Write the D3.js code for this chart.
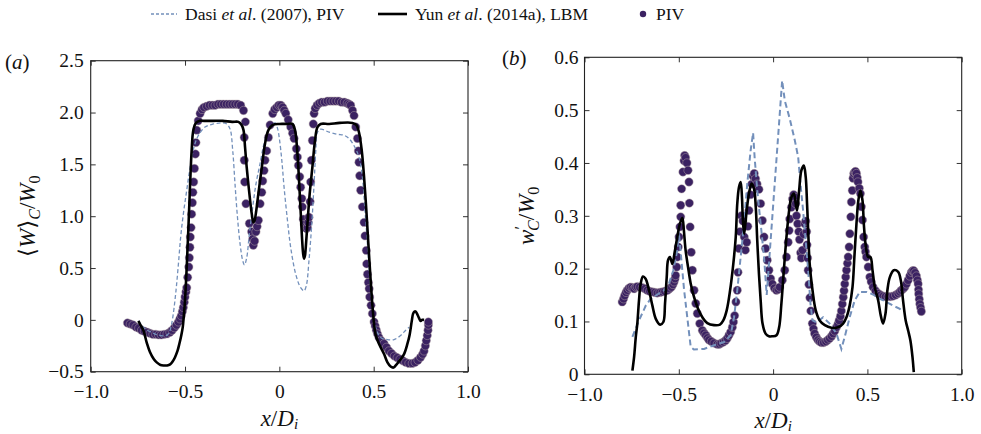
<!DOCTYPE html>
<html>
<head>
<meta charset="utf-8">
<script src="https://cdn.jsdelivr.net/npm/d3@7"></script>
<style>
  body { margin: 0; background: #fff; }
  svg { display: block; }
  text { font-family: "Liberation Serif", "DejaVu Serif", "Times New Roman", Times, serif; fill: #111; }
</style>
</head>
<body>
<div id="chart"></div>
<script>
// ---- data: [x/Di, value] ----

// (a) mean axial velocity <W>_C / W0
const pivMean = [
  [-0.805,-0.03],[-0.79,-0.04],[-0.775,-0.05],[-0.76,-0.07],[-0.745,-0.08],[-0.73,-0.10],[-0.715,-0.11],[-0.70,-0.12],
  [-0.685,-0.13],[-0.67,-0.14],[-0.655,-0.14],[-0.64,-0.145],[-0.625,-0.145],[-0.61,-0.14],[-0.595,-0.135],[-0.58,-0.12],
  [-0.568,-0.10],[-0.556,-0.075],[-0.545,-0.05],[-0.535,-0.02],[-0.527,0.01],[-0.52,0.04],[-0.514,0.08],[-0.509,0.12],
  [-0.504,0.17],[-0.5,0.22],[-0.495,0.27],[-0.491,0.31],[-0.486,0.41],[-0.48,0.51],[-0.477,0.60],[-0.474,0.70],
  [-0.472,0.80],[-0.468,0.89],[-0.465,1.02],[-0.461,1.13],[-0.458,1.23],[-0.454,1.33],[-0.45,1.46],[-0.445,1.60],
  [-0.442,1.71],[-0.438,1.83],[-0.43,1.92],[-0.42,1.99],[-0.41,2.03],[-0.40,2.05],[-0.385,2.06],[-0.37,2.07],
  [-0.355,2.07],[-0.34,2.07],[-0.325,2.08],[-0.31,2.08],[-0.295,2.08],[-0.28,2.08],[-0.265,2.08],[-0.25,2.08],
  [-0.235,2.08],[-0.22,2.08],[-0.205,2.07],[-0.19,2.02],[-0.18,1.91],[-0.186,1.76],[-0.186,1.54],[-0.184,1.33],
  [-0.177,1.12],[-0.159,0.93],[-0.147,0.85],[-0.141,0.78],[-0.138,0.72],[-0.131,0.76],[-0.124,0.85],[-0.118,0.90],
  [-0.111,0.96],[-0.102,1.12],[-0.093,1.23],[-0.088,1.34],[-0.081,1.44],[-0.076,1.54],[-0.067,1.63],[-0.058,1.76],
  [-0.049,1.88],[-0.035,1.99],[-0.025,2.03],[-0.014,2.05],[-0.003,2.07],[0.008,2.07],[0.018,2.05],[0.026,2.02],
  [0.034,1.99],[0.047,1.93],[0.06,1.86],[0.07,1.80],[0.078,1.75],[0.09,1.65],[0.096,1.57],[0.101,1.49],
  [0.108,1.38],[0.113,1.28],[0.119,1.17],[0.122,1.09],[0.127,0.97],[0.132,0.92],[0.138,0.89],[0.144,0.88],
  [0.149,0.89],[0.153,0.94],[0.157,0.99],[0.163,1.14],[0.166,1.33],[0.17,1.54],[0.175,1.73],[0.18,1.89],
  [0.184,1.99],[0.19,2.04],[0.2,2.07],[0.212,2.09],[0.225,2.10],[0.24,2.10],[0.255,2.11],[0.27,2.11],
  [0.285,2.11],[0.3,2.11],[0.315,2.11],[0.33,2.10],[0.345,2.10],[0.36,2.09],[0.37,2.08],[0.378,2.07],
  [0.388,2.02],[0.396,1.97],[0.405,1.86],[0.414,1.75],[0.419,1.63],[0.422,1.52],[0.426,1.39],[0.431,1.25],
  [0.44,1.09],[0.449,0.94],[0.454,0.81],[0.461,0.67],[0.463,0.54],[0.467,0.44],[0.472,0.36],[0.476,0.30],
  [0.479,0.22],[0.486,0.14],[0.493,0.06],[0.502,-0.02],[0.508,-0.06],[0.514,-0.10],[0.52,-0.135],[0.528,-0.17],
  [0.54,-0.20],[0.555,-0.23],[0.568,-0.265],[0.581,-0.30],[0.595,-0.325],[0.61,-0.35],[0.625,-0.365],[0.64,-0.38],
  [0.655,-0.395],[0.67,-0.41],[0.687,-0.42],[0.705,-0.42],[0.72,-0.41],[0.735,-0.39],[0.749,-0.36],[0.76,-0.33],
  [0.767,-0.30],[0.774,-0.25],[0.779,-0.20],[0.784,-0.15],[0.788,-0.10],[0.79,-0.05],[0.79,-0.02]
];

const lbmMean = [
  [-0.747,-0.01],[-0.739,-0.04],[-0.721,-0.10],[-0.703,-0.22],[-0.686,-0.31],[-0.665,-0.38],[-0.65,-0.41],[-0.63,-0.435],
  [-0.611,-0.44],[-0.595,-0.44],[-0.579,-0.43],[-0.565,-0.40],[-0.553,-0.36],[-0.54,-0.30],[-0.53,-0.23],[-0.52,-0.15],
  [-0.512,-0.07],[-0.506,0.05],[-0.5,0.19],[-0.491,0.51],[-0.482,0.89],[-0.473,1.31],[-0.465,1.63],[-0.456,1.83],
  [-0.442,1.90],[-0.42,1.92],[-0.40,1.92],[-0.35,1.92],[-0.30,1.92],[-0.25,1.91],[-0.217,1.91],[-0.2,1.88],
  [-0.19,1.83],[-0.182,1.67],[-0.173,1.47],[-0.159,1.22],[-0.146,1.02],[-0.138,0.94],[-0.131,0.96],[-0.125,1.02],
  [-0.111,1.22],[-0.093,1.47],[-0.076,1.70],[-0.058,1.83],[-0.035,1.88],[0.0,1.89],[0.04,1.89],[0.069,1.89],
  [0.083,1.83],[0.096,1.60],[0.108,1.22],[0.119,0.83],[0.126,0.64],[0.131,0.59],[0.136,0.62],[0.14,0.70],
  [0.149,0.93],[0.161,1.22],[0.175,1.47],[0.189,1.73],[0.202,1.86],[0.219,1.89],[0.264,1.89],[0.32,1.90],
  [0.387,1.90],[0.408,1.88],[0.422,1.81],[0.437,1.63],[0.449,1.38],[0.461,1.06],[0.472,0.73],[0.484,0.38],
  [0.497,0.06],[0.51,-0.14],[0.528,-0.23],[0.555,-0.33],[0.573,-0.41],[0.59,-0.45],[0.605,-0.46],[0.617,-0.44],
  [0.638,-0.39],[0.661,-0.33],[0.679,-0.23],[0.691,-0.14],[0.702,-0.01],[0.709,0.06],[0.716,0.08],[0.723,0.08],
  [0.732,0.05],[0.74,0.02],[0.749,-0.01],[0.758,0.0],[0.767,0.0]
];

const dasiMean = [
  [-0.747,-0.01],[-0.721,-0.07],[-0.7,-0.10],[-0.677,-0.12],[-0.655,-0.14],[-0.632,-0.15],[-0.612,-0.155],[-0.597,-0.15],
  [-0.587,-0.13],[-0.579,-0.10],[-0.57,-0.03],[-0.562,0.06],[-0.548,0.28],[-0.535,0.54],[-0.523,0.80],[-0.509,1.02],
  [-0.491,1.25],[-0.473,1.47],[-0.452,1.67],[-0.429,1.78],[-0.394,1.86],[-0.35,1.89],[-0.306,1.90],[-0.279,1.89],
  [-0.261,1.84],[-0.247,1.63],[-0.235,1.31],[-0.222,0.99],[-0.208,0.73],[-0.194,0.57],[-0.185,0.53],[-0.173,0.60],
  [-0.159,0.83],[-0.141,1.09],[-0.124,1.31],[-0.102,1.51],[-0.085,1.67],[-0.064,1.80],[-0.04,1.88],[-0.023,1.90],
  [-0.01,1.85],[0.0,1.75],[0.013,1.54],[0.025,1.28],[0.043,0.96],[0.06,0.70],[0.087,0.44],[0.113,0.31],
  [0.131,0.28],[0.143,0.33],[0.157,0.57],[0.172,0.93],[0.184,1.31],[0.193,1.63],[0.202,1.81],[0.219,1.84],
  [0.264,1.81],[0.308,1.79],[0.343,1.78],[0.369,1.75],[0.396,1.68],[0.422,1.57],[0.44,1.38],[0.454,1.05],
  [0.467,0.73],[0.479,0.41],[0.493,0.12],[0.51,-0.07],[0.537,-0.17],[0.573,-0.19],[0.608,-0.19],[0.643,-0.15],
  [0.67,-0.10],[0.688,-0.07]
];

// (b) rms fluctuation w'_C / W0
const pivRms = [
  [-0.80,0.137],[-0.793,0.143],[-0.787,0.149],[-0.78,0.155],[-0.773,0.159],[-0.764,0.163],[-0.755,0.165],[-0.746,0.164],
  [-0.737,0.162],[-0.728,0.165],[-0.72,0.166],[-0.707,0.165],[-0.693,0.164],[-0.68,0.162],[-0.667,0.159],[-0.654,0.157],
  [-0.64,0.156],[-0.627,0.155],[-0.614,0.154],[-0.6,0.155],[-0.587,0.156],[-0.574,0.157],[-0.56,0.159],[-0.549,0.162],
  [-0.539,0.165],[-0.531,0.17],[-0.525,0.175],[-0.52,0.181],[-0.517,0.187],[-0.511,0.203],[-0.508,0.222],[-0.503,0.241],
  [-0.499,0.26],[-0.494,0.279],[-0.49,0.298],[-0.49,0.32],[-0.485,0.351],[-0.478,0.383],[-0.472,0.404],[-0.469,0.414],
  [-0.464,0.41],[-0.457,0.40],[-0.451,0.386],[-0.446,0.364],[-0.444,0.324],[-0.44,0.279],[-0.434,0.231],[-0.428,0.197],
  [-0.419,0.159],[-0.41,0.134],[-0.402,0.115],[-0.389,0.096],[-0.375,0.083],[-0.366,0.078],[-0.357,0.074],[-0.348,0.069],
  [-0.34,0.065],[-0.327,0.062],[-0.313,0.059],[-0.296,0.057],[-0.285,0.057],[-0.275,0.059],[-0.263,0.061],[-0.252,0.064],
  [-0.243,0.068],[-0.234,0.074],[-0.225,0.08],[-0.216,0.089],[-0.21,0.099],[-0.204,0.111],[-0.197,0.137],[-0.19,0.159],
  [-0.186,0.193],[-0.181,0.238],[-0.175,0.27],[-0.168,0.30],[-0.16,0.29],[-0.153,0.26],[-0.147,0.235],[-0.14,0.25],
  [-0.134,0.28],[-0.128,0.31],[-0.12,0.34],[-0.113,0.36],[-0.106,0.375],[-0.1,0.38],[-0.093,0.37],[-0.085,0.36],
  [-0.075,0.35],[-0.066,0.323],[-0.057,0.291],[-0.048,0.26],[-0.04,0.238],[-0.031,0.216],[-0.022,0.197],[-0.013,0.181],
  [-0.004,0.171],[0.007,0.163],[0.018,0.159],[0.027,0.161],[0.035,0.165],[0.049,0.178],[0.062,0.197],[0.071,0.222],
  [0.08,0.25],[0.085,0.272],[0.088,0.294],[0.097,0.316],[0.103,0.332],[0.109,0.34],[0.115,0.335],[0.12,0.323],
  [0.124,0.30],[0.13,0.285],[0.136,0.27],[0.14,0.255],[0.146,0.23],[0.15,0.22],[0.156,0.235],[0.162,0.265],
  [0.168,0.285],[0.173,0.29],[0.178,0.27],[0.18,0.245],[0.183,0.22],[0.186,0.197],[0.19,0.17],[0.195,0.145],
  [0.2,0.12],[0.208,0.096],[0.214,0.086],[0.22,0.077],[0.229,0.07],[0.238,0.065],[0.247,0.062],[0.256,0.06],
  [0.268,0.06],[0.28,0.062],[0.29,0.065],[0.3,0.068],[0.31,0.072],[0.318,0.077],[0.327,0.082],[0.336,0.089],
  [0.344,0.095],[0.35,0.102],[0.357,0.11],[0.362,0.12],[0.367,0.133],[0.372,0.146],[0.376,0.158],[0.38,0.171],
  [0.385,0.184],[0.389,0.197],[0.394,0.21],[0.398,0.222],[0.403,0.241],[0.407,0.266],[0.412,0.298],[0.415,0.326],
  [0.42,0.348],[0.424,0.371],[0.428,0.38],[0.433,0.383],[0.437,0.384],[0.442,0.38],[0.446,0.372],[0.45,0.364],
  [0.457,0.352],[0.463,0.342],[0.468,0.317],[0.474,0.292],[0.48,0.26],[0.486,0.241],[0.49,0.232],[0.495,0.222],
  [0.504,0.203],[0.513,0.184],[0.52,0.175],[0.53,0.165],[0.543,0.158],[0.557,0.153],[0.57,0.15],[0.583,0.148],
  [0.596,0.147],[0.61,0.147],[0.623,0.147],[0.636,0.148],[0.65,0.15],[0.663,0.153],[0.672,0.156],[0.68,0.159],
  [0.69,0.162],[0.698,0.165],[0.707,0.171],[0.716,0.178],[0.725,0.186],[0.733,0.193],[0.74,0.196],[0.746,0.196],
  [0.753,0.192],[0.76,0.186],[0.765,0.178],[0.769,0.171],[0.771,0.16],[0.772,0.152],[0.775,0.142],[0.778,0.133],
  [0.782,0.126],[0.786,0.119]
];

const lbmRms = [
  [-0.746,0.007],[-0.737,0.033],[-0.728,0.071],[-0.72,0.096],[-0.711,0.14],[-0.702,0.172],[-0.69,0.185],[-0.676,0.181],
  [-0.658,0.159],[-0.64,0.13],[-0.622,0.105],[-0.599,0.094],[-0.582,0.099],[-0.573,0.134],[-0.564,0.184],[-0.557,0.216],
  [-0.547,0.222],[-0.534,0.209],[-0.522,0.231],[-0.508,0.26],[-0.494,0.285],[-0.481,0.296],[-0.473,0.272],[-0.464,0.235],
  [-0.451,0.203],[-0.437,0.172],[-0.419,0.146],[-0.398,0.124],[-0.375,0.108],[-0.349,0.097],[-0.313,0.093],[-0.282,0.094],
  [-0.264,0.102],[-0.246,0.121],[-0.228,0.159],[-0.211,0.209],[-0.198,0.26],[-0.19,0.323],[-0.181,0.354],[-0.172,0.364],
  [-0.165,0.335],[-0.161,0.298],[-0.154,0.266],[-0.147,0.285],[-0.14,0.31],[-0.128,0.342],[-0.114,0.361],[-0.101,0.351],
  [-0.092,0.317],[-0.084,0.253],[-0.075,0.19],[-0.066,0.14],[-0.056,0.096],[-0.04,0.077],[-0.022,0.072],[-0.004,0.072],
  [0.018,0.074],[0.032,0.089],[0.044,0.134],[0.057,0.197],[0.071,0.26],[0.085,0.31],[0.097,0.335],[0.11,0.342],
  [0.12,0.323],[0.127,0.31],[0.138,0.348],[0.15,0.386],[0.163,0.395],[0.173,0.373],[0.18,0.323],[0.186,0.272],
  [0.194,0.209],[0.209,0.159],[0.226,0.121],[0.247,0.102],[0.274,0.093],[0.309,0.088],[0.345,0.089],[0.371,0.096],
  [0.389,0.108],[0.406,0.13],[0.421,0.165],[0.431,0.222],[0.442,0.285],[0.452,0.329],[0.463,0.348],[0.474,0.329],
  [0.481,0.285],[0.49,0.247],[0.504,0.222],[0.516,0.222],[0.527,0.197],[0.539,0.165],[0.557,0.14],[0.571,0.111],
  [0.583,0.096],[0.596,0.115],[0.606,0.159],[0.619,0.184],[0.64,0.197],[0.663,0.194],[0.677,0.178],[0.689,0.14],
  [0.703,0.102],[0.716,0.083],[0.728,0.064],[0.739,0.033],[0.746,0.004]
];

const dasiRms = [
  [-0.746,0.071],[-0.711,0.102],[-0.675,0.13],[-0.649,0.143],[-0.614,0.151],[-0.578,0.159],[-0.552,0.172],[-0.529,0.197],
  [-0.508,0.235],[-0.5,0.27],[-0.472,0.16],[-0.437,0.052],[-0.42,0.047],[-0.366,0.048],[-0.313,0.055],[-0.26,0.061],
  [-0.225,0.074],[-0.207,0.108],[-0.19,0.159],[-0.172,0.222],[-0.154,0.285],[-0.137,0.361],[-0.119,0.424],[-0.106,0.457],
  [-0.098,0.411],[-0.084,0.348],[-0.066,0.285],[-0.048,0.222],[-0.034,0.15],[0.048,0.556],[0.062,0.518],[0.088,0.484],
  [0.115,0.443],[0.133,0.411],[0.145,0.361],[0.159,0.31],[0.171,0.26],[0.186,0.197],[0.198,0.134],[0.209,0.102],
  [0.23,0.098],[0.265,0.108],[0.3,0.096],[0.336,0.077],[0.362,0.048],[0.38,0.071],[0.406,0.108],[0.433,0.14],
  [0.46,0.156],[0.495,0.156],[0.53,0.151],[0.566,0.143],[0.601,0.137],[0.636,0.13],[0.672,0.124],[0.686,0.118]
];

// ticks
const xTicks = [-1, -0.5, 0, 0.5, 1];
const xTickLabels = ["\u22121.0", "\u22120.5", "0", "0.5", "1.0"];
const yTicksA = [-0.5, 0, 0.5, 1, 1.5, 2, 2.5];
const yTickLabelsA = ["\u22120.5", "0", "0.5", "1.0", "1.5", "2.0", "2.5"];
const yTicksB = [0, 0.1, 0.2, 0.3, 0.4, 0.5, 0.6];
const yTickLabelsB = ["0", "0.1", "0.2", "0.3", "0.4", "0.5", "0.6"];

const W = 981, H = 434;
const serif = '"Liberation Serif", "DejaVu Serif", "Times New Roman", Times, serif';
const dashColor = "#7390bb";
const dotColor = "#3b2262";

const svg = d3.select("#chart").append("svg")
    .attr("width", W)
    .attr("height", H)
    .style("font-family", serif);

// soft edge for the scanned-looking dots
svg.append("defs").append("filter")
    .attr("id", "soft")
    .attr("x", "-20%").attr("y", "-20%").attr("width", "140%").attr("height", "140%")
    .append("feGaussianBlur")
    .attr("stdDeviation", 0.5);

/**
 * one panel: frame, inward ticks on four sides, data
 */
function drawPanel(cfg) {
    const x = d3.scaleLinear().domain([-1, 1]).range([cfg.left, cfg.right]);
    const y = d3.scaleLinear().domain(cfg.yDomain).range([cfg.bottom, cfg.top]);
    const g = svg.append("g");

    const clipId = "clip-" + cfg.name;
    svg.select("defs").append("clipPath").attr("id", clipId)
        .append("rect")
        .attr("x", cfg.left).attr("y", cfg.top - 6)
        .attr("width", cfg.right - cfg.left).attr("height", cfg.bottom - cfg.top + 6);

    const plot = g.append("g").attr("clip-path", `url(#${clipId})`);

    // PIV dots
    plot.append("g")
        .attr("filter", "url(#soft)")
        .selectAll("circle")
        .data(cfg.piv)
        .enter()
        .append("circle")
        .attr("cx", d => x(d[0]))
        .attr("cy", d => y(d[1]))
        .attr("r", 4.2)
        .attr("fill", dotColor)
        .attr("stroke", "#b7a9a9")
        .attr("stroke-opacity", 0.45)
        .attr("stroke-width", 1);

    // Dasi et al. dashed
    plot.append("path")
        .datum(cfg.dasi)
        .attr("fill", "none")
        .attr("stroke", dashColor)
        .attr("stroke-width", cfg.dashWidth)
        .attr("stroke-dasharray", cfg.dashArray)
        .attr("d", d3.line().x(d => x(d[0])).y(d => y(d[1])).curve(cfg.dashCurve));

    // Yun et al. LBM
    plot.append("path")
        .datum(cfg.lbm)
        .attr("fill", "none")
        .attr("stroke", "#000")
        .attr("stroke-width", 2.6)
        .attr("stroke-linejoin", "round")
        .attr("d", d3.line().x(d => x(d[0])).y(d => y(d[1])).curve(d3.curveCatmullRom.alpha(0.5)));

    // axes, ticks pointing inwards
    const fmtX = d => xTickLabels[xTicks.indexOf(d)];
    const fmtY = d => cfg.yLabels[cfg.yTicks.indexOf(d)];

    const bottom = g.append("g")
        .attr("transform", `translate(0,${cfg.bottom})`)
        .call(d3.axisBottom(x).tickValues(xTicks).tickFormat(fmtX).tickSizeInner(-5).tickSizeOuter(0).tickPadding(cfg.xPad));
    const left = g.append("g")
        .attr("transform", `translate(${cfg.left},0)`)
        .call(d3.axisLeft(y).tickValues(cfg.yTicks).tickFormat(fmtY).tickSizeInner(-5).tickSizeOuter(0).tickPadding(cfg.yPad));
    const top = g.append("g")
        .attr("transform", `translate(0,${cfg.top})`)
        .call(d3.axisTop(x).tickValues(xTicks).tickFormat("").tickSizeInner(-5).tickSizeOuter(0));
    const right = g.append("g")
        .attr("transform", `translate(${cfg.right},0)`)
        .call(d3.axisRight(y).tickValues(cfg.yTicks).tickFormat("").tickSizeInner(-5).tickSizeOuter(0));

    [bottom, left, top, right].forEach(a => {
        a.attr("font-family", serif);
        a.select(".domain").remove();
        a.selectAll("line").attr("stroke", "#333").attr("stroke-width", 1);
    });
    [bottom, left].forEach(a => {
        a.selectAll("text")
            .attr("fill", "#111")
            .style("font-family", serif)
            .style("font-size", "19.5px");
    });

    g.append("rect")
        .attr("x", cfg.left).attr("y", cfg.top)
        .attr("width", cfg.right - cfg.left).attr("height", cfg.bottom - cfg.top)
        .attr("fill", "none")
        .attr("stroke", "#222")
        .attr("stroke-width", 1.1);

    // panel tag
    const tag = g.append("text")
        .attr("x", cfg.tagX).attr("y", cfg.tagY)
        .attr("font-size", "21px");
    tag.append("tspan").text("(");
    tag.append("tspan").attr("font-style", "italic").text(cfg.name);
    tag.append("tspan").text(")");

    // x axis title  x/D_i
    const xt = g.append("text")
        .attr("x", (cfg.left + cfg.right) / 2)
        .attr("y", cfg.xTitleY)
        .attr("text-anchor", "middle")
        .attr("font-size", "23px");
    xt.append("tspan").attr("font-style", "italic").text("x");
    xt.append("tspan").text("/");
    xt.append("tspan").attr("font-style", "italic").text("D");
    xt.append("tspan").attr("font-style", "italic").attr("font-size", "15px").attr("dy", 3).text("i");

    // y axis title
    const yt = g.append("text")
        .attr("transform", `translate(${cfg.yTitleX},${(cfg.top + cfg.bottom) / 2}) rotate(-90)`)
        .attr("text-anchor", "middle")
        .attr("font-size", "23px");
    cfg.yTitle(yt);

    return { x, y };
}

drawPanel({
    name: "a",
    left: 90.7, right: 468, top: 60.7, bottom: 371.7,
    yDomain: [-0.5, 2.5], yTicks: yTicksA, yLabels: yTickLabelsA, xPad: 12, yPad: 7,
    piv: pivMean, lbm: lbmMean, dasi: dasiMean,
    dashWidth: 1.3, dashArray: "4,2.5", dashCurve: d3.curveCatmullRom.alpha(0.5),
    tagX: 5, tagY: 69, yTitleX: 35, xTitleY: 426,
    yTitle: t => {
        t.append("tspan").text("\u27E8");
        t.append("tspan").attr("font-style", "italic").text("W");
        t.append("tspan").text("\u27E9");
        t.append("tspan").attr("font-style", "italic").attr("font-size", "16px").attr("dy", 5).text("C");
        t.append("tspan").attr("dy", -5).text("/");
        t.append("tspan").attr("font-style", "italic").text("W");
        t.append("tspan").attr("font-size", "16px").attr("dy", 5).text("0");
    }
});

drawPanel({
    name: "b",
    left: 584.5, right: 961.7, top: 57.3, bottom: 374.3,
    yDomain: [0, 0.6], yTicks: yTicksB, yLabels: yTickLabelsB, xPad: 13, yPad: 6,
    piv: pivRms, lbm: lbmRms, dasi: dasiRms,
    dashWidth: 2, dashArray: "6,3.5", dashCurve: d3.curveLinear,
    tagX: 502, tagY: 65, yTitleX: 534, xTitleY: 428,
    yTitle: t => {
        t.append("tspan").attr("font-style", "italic").text("w");
        t.append("tspan").attr("font-size", "17px").attr("dy", -8).text("\u2032");
        t.append("tspan").attr("font-style", "italic").attr("font-size", "16px").attr("dx", -5).attr("dy", 13).text("C");
        t.append("tspan").attr("dy", -5).text("/");
        t.append("tspan").attr("font-style", "italic").text("W");
        t.append("tspan").attr("font-size", "16px").attr("dy", 5).text("0");
    }
});

// legend
const legend = svg.append("g").attr("font-size", "17.5px");
const legendY = 14;

legend.append("line")
    .attr("x1", 151).attr("x2", 177).attr("y1", legendY).attr("y2", legendY)
    .attr("stroke", dashColor).attr("stroke-width", 1.3).attr("stroke-dasharray", "3,2");
const l1 = legend.append("text").attr("x", 185).attr("y", legendY + 6);
l1.append("tspan").text("Dasi ");
l1.append("tspan").attr("font-style", "italic").text("et al");
l1.append("tspan").text(". (2007), PIV");

legend.append("line")
    .attr("x1", 378).attr("x2", 407).attr("y1", legendY).attr("y2", legendY)
    .attr("stroke", "#000").attr("stroke-width", 2.6);
const l2 = legend.append("text").attr("x", 415).attr("y", legendY + 6);
l2.append("tspan").text("Yun ");
l2.append("tspan").attr("font-style", "italic").text("et al");
l2.append("tspan").text(". (2014a), LBM");

legend.append("circle")
    .attr("cx", 643).attr("cy", legendY)
    .attr("r", 3.2)
    .attr("fill", dotColor)
    .attr("filter", "url(#soft)");
legend.append("text").attr("x", 656).attr("y", legendY + 6).text("PIV");
</script>
</body>
</html>
